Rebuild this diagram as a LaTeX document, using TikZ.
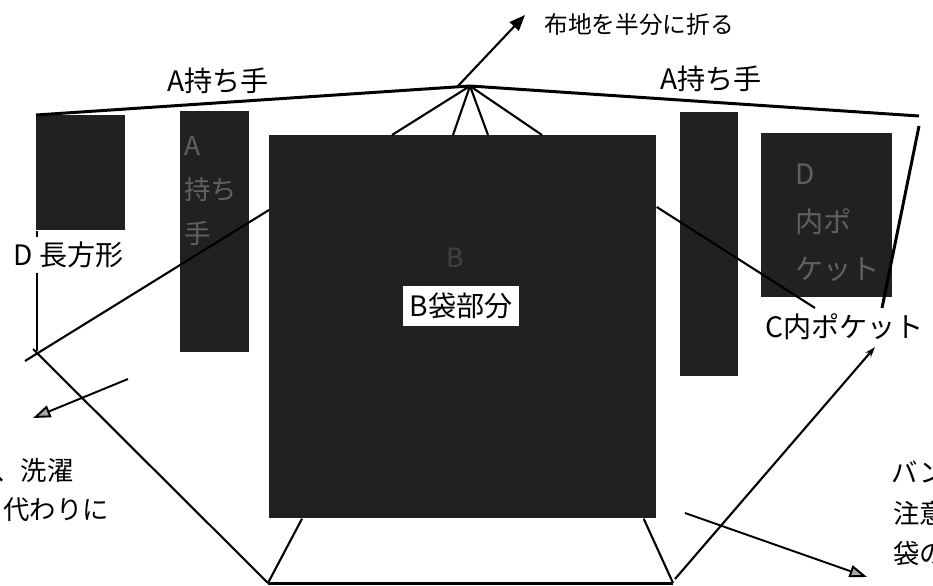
\documentclass[tikz,border=0pt]{standalone}
\usepackage{fontspec}
\newfontfamily\jpfont{Noto Sans CJK JP}
\usetikzlibrary{arrows.meta,calc,positioning}

\newcommand{\px}{0.02cm}

\tikzset{
  piece/.style={fill=black!87, draw=none, inner sep=0pt, anchor=north west},
  ghost/.style={text=black!62, font=\jpfont\fontsize{15}{25}\selectfont, align=left, inner sep=0pt, anchor=north west},
  lbl/.style={font=\jpfont\fontsize{16}{18}\selectfont, inner sep=0pt},
  note/.style={font=\jpfont\fontsize{15}{17}\selectfont, inner sep=0pt, anchor=west},
  edge/.style={line width=1.2pt},
  rim/.style={line width=1.7pt},
  pointer/.style={line width=1.1pt, -{Triangle[length=10pt,width=7pt,fill=black!35]}},
}

\begin{document}
\begin{tikzpicture}[x=0.02cm, y=-0.02cm]
    \useasboundingbox (0,0) rectangle (933,585);
    \clip (0,0) rectangle (933,585);
    % pattern pieces
    \node[piece, minimum width=89*\px, minimum height=115*\px] (D) at (36,115) {};
    \node[piece, minimum width=69*\px, minimum height=241*\px] (A1) at (180,111) {};
    \node[piece, minimum width=387*\px, minimum height=383*\px] (B) at (269,135) {};
    \node[piece, minimum width=58*\px, minimum height=264*\px] (A2) at (680,112) {};
    \node[piece, minimum width=131*\px, minimum height=164*\px] (C) at (761,133) {};
    % faint texts on the pieces
    \node[ghost] (A1txt) at (184,136) {A\\持ち\\手};
    \node[ghost, text=black!75] (Btxt) at (446,248) {B};
    \node[ghost, font=\jpfont\fontsize{16}{27}\selectfont] (Ctxt) at (795,164) {D\\内ポ\\ケット};
    % points
    \coordinate (fold) at (470,86);
    \coordinate (rimR) at (919,116);
    \coordinate (cTick) at (882,308);
    \coordinate (Dfoot) at (35,351);
    \coordinate (botL) at (268,583);
    \coordinate (botR) at (673,583);
    % fold lines
    \draw[rim] (D.north west) -- (fold) -- (rimR);
    \draw[rim] ($(rimR)+(0,10)$) -- (cTick);
    \draw[edge, -{Triangle[length=9pt,width=7pt]}] ($(fold)+(-12,0)$) -- (525,15);
    \foreach \dx in {123,184,219,273}{
        \draw[edge] (fold) -- ($(B.north west)+(\dx,0)$);
    }
    \draw[edge] ($(B.north west)+(0,75)$) -- (25,361);
    \draw[edge] ($(B.north east)+(0,72)$) -- (815,308);
    \draw[rim] ($(D.south west)+(1,0)$) -- ($(Dfoot)+(2,0)$);
    \draw[edge] ($(Dfoot)+(-2,-2)$) -- (botL);
    \draw[rim] (botL) -- (botR);
    \draw[edge] (botL) -- ($(B.south west)+(33,0)$);
    \draw[edge] (botR) -- ($(B.south east)+(-13,0)$);
    \draw[edge, -{Stealth[length=6pt,width=4pt]}] ($(botR)+(2,-4)$) -- (875,347);
    \draw[pointer] (685,513) -- (867,577);
    \draw[pointer] (128,379) -- (33,418);
    % labels
    \node[lbl] (lblA1) at (218,81) {A持ち手};
    \node[lbl] (lblA2) at (711,79) {A持ち手};
    \node[note, font=\jpfont\fontsize{13.5}{15}\selectfont] (lblFold) at (544,25) {布地を半分に折る};
    \node[lbl, fill=white, anchor=west, inner xsep=2pt, inner ysep=3pt] (lblD) at (10,255) {D 長方形};
    \node[lbl, fill=white, inner xsep=4pt, inner ysep=4pt] (lblB) at (461,306) {B袋部分};
    \node[lbl, anchor=west] (lblC) at (765,327) {C内ポケット};
    \node[note] (noteL1) at (-6,470) {、洗濯};
    \node[note] (noteL2) at (3,510) {代わりに};
    \node[note] (noteR1) at (891,472) {バン};
    \node[note] (noteR2) at (893,513) {注意};
    \node[note] (noteR3) at (893,553) {袋の};
\end{tikzpicture}
\end{document}
